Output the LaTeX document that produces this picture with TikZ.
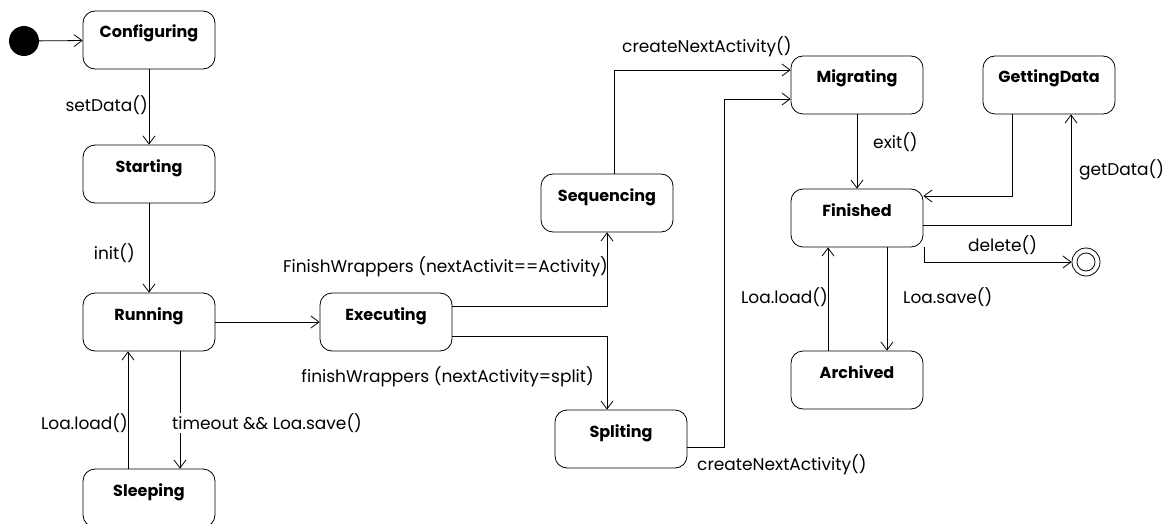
\documentclass[tikz,border=0pt]{standalone}
\usepackage{fontspec}
\setmainfont{Poppins}
\usetikzlibrary{arrows.meta}

\begin{document}
\begin{tikzpicture}[x=1pt, y=-1pt,
    state/.style={draw, rounded corners=12pt, line width=0.8pt, minimum width=132pt,
        inner sep=0pt, text height=27pt, text depth=31pt,
        font=\fontsize{16}{18}\selectfont\bfseries},
    trans/.style={line width=0.8pt, -{Straight Barb[length=8pt,width=12pt]}},
    lbl/.style={inner sep=0pt, anchor=west, font=\fontsize{17}{19}\selectfont}]
    \useasboundingbox (0,0) rectangle (1164,524);
    % states
    \node[state] (conf) at (149,40) {Configuring};
    \node[state] (start) at (149,174) {Starting};
    \node[state] (run) at (149,322) {Running};
    \node[state] (sleep) at (149,498) {Sleeping};
    \node[state] (exec) at (386,322) {Executing};
    \node[state] (seq) at (607,203) {Sequencing};
    \node[state] (split) at (621,439) {Spliting};
    \node[state] (mig) at (857,85) {Migrating};
    \node[state] (get) at (1049,85) {GettingData};
    \node[state] (fin) at (857,218) {Finished};
    \node[state] (arch) at (857,380) {Archived};
    \node[circle, fill=black, minimum size=30pt, inner sep=0pt] (init) at (24,41) {};
    \node[circle, draw, line width=0.8pt, minimum size=28pt, inner sep=0pt] (final) at (1086,262) {};
    \node[circle, draw, line width=0.8pt, minimum size=18pt, inner sep=0pt] (finalin) at (final) {};
    % transitions
    \draw[trans] (init) -- (conf);
    \draw[trans] (conf) -- (start);
    \draw[trans] (start) -- (run);
    \draw[trans] (run) -- (exec);
    \draw[trans] ([xshift=-21pt]sleep.north) -- ([xshift=-21pt]run.south);
    \draw[trans] ([xshift=31pt]run.south) -- ([xshift=31pt]sleep.north);
    \draw[trans] ([yshift=16pt]exec.east) -| (seq.south);
    \draw[trans] ([yshift=-14pt]exec.east) -| ([xshift=-14pt]split.north);
    \draw[trans] ([xshift=7pt]seq.north) |- ([yshift=15pt]mig.west);
    \draw[trans] ([yshift=-8pt]split.east) -- ++(37,0) |- ([yshift=-14pt]mig.west);
    \draw[trans] (mig) -- (fin);
    \draw[trans] ([xshift=-37pt]get.south) |- ([yshift=22pt]fin.east);
    \draw[trans] ([yshift=-7pt]fin.east) -| ([xshift=22pt]get.south);
    \draw[trans] ([xshift=1pt]fin.south east) |- (final);
    \draw[trans] ([xshift=-29pt]arch.north) -- ([xshift=-29pt]fin.south);
    \draw[trans] ([xshift=30pt]fin.south) -- ([xshift=30pt]arch.north);
    % labels
    \node[lbl, anchor=east] (lsetdata) at (148,105) {setData()};
    \node[lbl, anchor=east] (linit) at (135,253) {init()};
    \node[lbl, anchor=east] (lload) at (128,423) {Loa.load()};
    \node[lbl, fill=white] (lsave) at (172,423) {timeout \&\& Loa.save()};
    \node[lbl, anchor=east] (lseqw) at (608,267) {FinishWrappers (nextActivit==Activity)};
    \node[lbl, anchor=east] (lsplitw) at (594,377) {finishWrappers (nextActivity=split)};
    \node[lbl] (lnexta) at (622,47) {createNextActivity()};
    \node[lbl] (lnextb) at (697,465) {createNextActivity()};
    \node[lbl] (lexit) at (873,142) {exit()};
    \node[lbl] (lgetdata) at (1079,170) {getData()};
    \node[lbl] (ldelete) at (968,245) {delete()};
    \node[lbl, anchor=east] (larchload) at (828,297) {Loa.load()};
    \node[lbl] (larchsave) at (903,297) {Loa.save()};
\end{tikzpicture}
\end{document}
